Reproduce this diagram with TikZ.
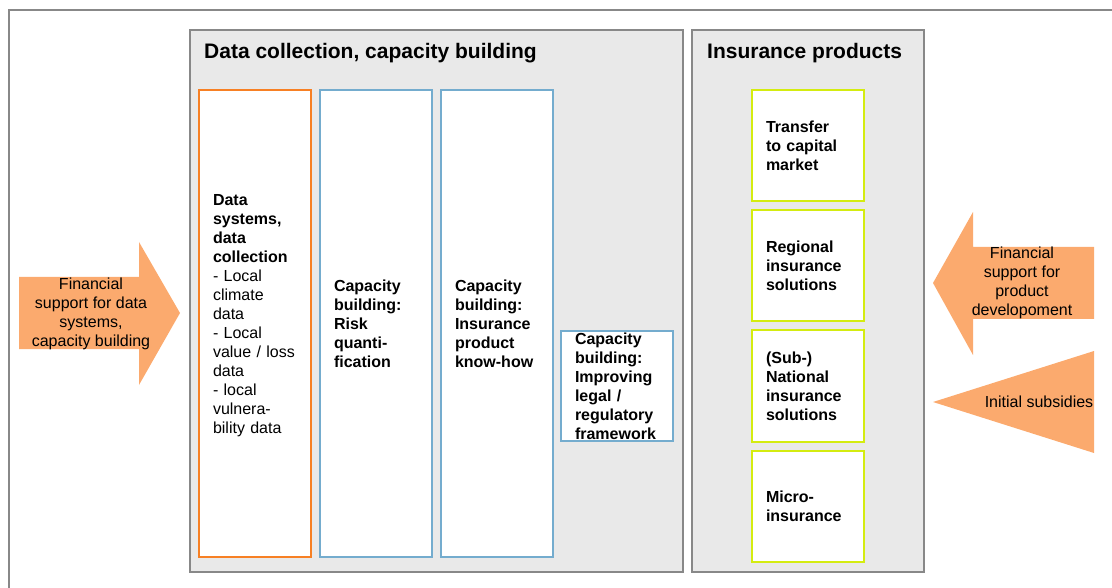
\documentclass[tikz,border=0pt]{standalone}
\usepackage{fontspec}
\setmainfont{Liberation Sans}
\definecolor{framegray}{RGB}{136,136,136}
\definecolor{panelgray}{RGB}{233,233,233}
\definecolor{dataorange}{RGB}{247,128,36}
\definecolor{capblue}{RGB}{116,172,206}
\definecolor{prodgreen}{RGB}{212,236,16}
\definecolor{arrowfill}{RGB}{251,170,110}

\begin{document}
\begin{tikzpicture}[x=1pt, y=-1pt,
    frame/.style={draw=framegray, line width=2.5pt},
    panel/.style={draw=framegray, line width=2.5pt, fill=panelgray, inner sep=0pt, outer sep=0pt, anchor=north west},
    cellbox/.style={draw, line width=2pt, fill=white, inner sep=0pt, outer sep=0pt, minimum width=112pt, anchor=north west},
    databox/.style={cellbox, draw=dataorange, minimum height=467pt},
    capbox/.style={cellbox, draw=capblue},
    prodbox/.style={cellbox, draw=prodgreen, minimum height=111pt},
    cellnote/.style={text width=84pt, align=left, inner sep=0pt, font=\fontsize{16}{19}\selectfont},
    heading/.style={anchor=base west, inner sep=0pt, font=\fontsize{21}{25}\selectfont\bfseries},
    flownote/.style={align=center, inner sep=0pt, font=\fontsize{16}{19}\selectfont},
    blockarrow/.style={fill=arrowfill}
  ]
  \useasboundingbox (0,0) rectangle (1112,588);

  % Outer frame
  \draw[frame] (9,10) rectangle (1130,600);

  % Panels
  \node[panel, minimum width=493pt, minimum height=542pt] (datapanel) at (190,30) {};
  \node[panel, minimum width=232pt, minimum height=542pt] (prodpanel) at (692,30) {};
  \node[heading] (datatitle) at (204,59) {Data collection, capacity building};
  \node[heading] (prodtitle) at (707,59) {Insurance products};

  % Data collection and capacity building
  \node[databox] (datasys) at (199,90) {};
  \node[cellnote, yshift=8pt] (datasystext) at (datasys) {\textbf{Data}\\ \textbf{systems,}\\ \textbf{data}\\ \textbf{collection}\\
    - Local\\ climate\\ data\\ - Local\\ value / loss\\ data\\ - local\\ vulnera-\\ bility data};

  \node[capbox, minimum height=467pt] (risk) at (320,90) {};
  \node[cellnote, font=\fontsize{16}{19}\selectfont\bfseries] (risktext) at (risk) {Capacity\\ building:\\ Risk\\ quanti-\\ fication};

  \node[capbox, minimum height=467pt] (knowhow) at (441,90) {};
  \node[cellnote, font=\fontsize{16}{19}\selectfont\bfseries] (knowhowtext) at (knowhow) {Capacity\\ building:\\ Insurance\\ product\\ know-how};

  \node[capbox, minimum height=110pt] (legal) at (561,331) {};
  \node[cellnote, font=\fontsize{16}{19}\selectfont\bfseries] (legaltext) at (legal) {Capacity\\ building:\\ Improving\\ legal /\\ regulatory\\ framework};

  % Insurance products
  \foreach \name/\top/\txt in {transfer/90/{Transfer\\ to capital\\ market},
      regional/210/{Regional\\ insurance\\ solutions},
      national/330.5/{(Sub-)\\ National\\ insurance\\ solutions},
      micro/451/{Micro-\\ insurance}} {
      \node[prodbox] (\name) at (752,\top) {};
      \node[cellnote, font=\fontsize{16}{19}\selectfont\bfseries] (\name-text) at (\name) {\txt};
    }

  % Flows
  \fill[blockarrow] (19,277) -- (139,277) -- (139,242) -- (180,313) -- (139,385) -- (139,349) -- (19,349) -- cycle;
  \fill[blockarrow] (1094,247) -- (973,247) -- (973,212) -- (933,283) -- (973,355) -- (973,319) -- (1094,319) -- cycle;
  \fill[blockarrow] (1094,351) -- (933,402) -- (1094,453) -- cycle;

  % Labels
  \node[flownote] (datafunds) at (91,314) {Financial\\ support for data\\ systems,\\ capacity building};
  \node[flownote] (prodfunds) at (1022,283) {Financial\\ support for\\ product\\ developoment};
  \node[flownote] (subsidies) at (1039,402) {Initial subsidies};

\end{tikzpicture}
\end{document}
